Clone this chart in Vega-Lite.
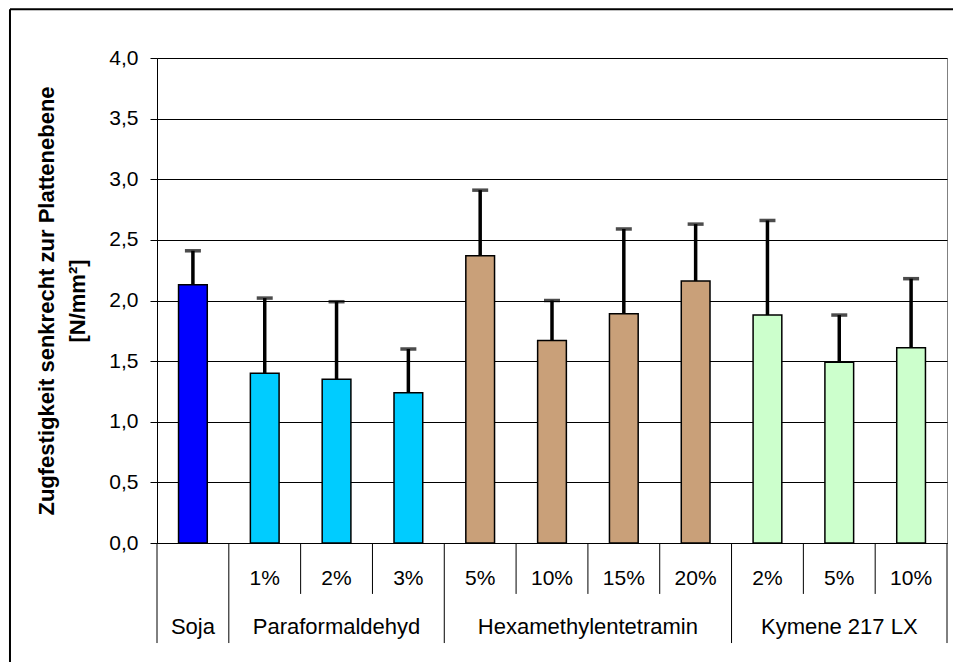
{
  "$schema": "https://vega.github.io/schema/vega-lite/v6.json",
  "width": 790,
  "height": 485,
  "autosize": "none",
  "padding": {"left": 157, "top": 58, "right": 6, "bottom": 119},
  "background": "white",
  "config": {"view": {"stroke": "#808080", "strokeWidth": 1}, "font": "Liberation Sans"},
  "datasets": {
    "bars": [
      {"id": "Soja", "group": "Soja", "conc": "", "value": 2.13, "upper": 2.41},
      {"id": "P1", "group": "Paraformaldehyd", "conc": "1%", "value": 1.40, "upper": 2.02},
      {"id": "P2", "group": "Paraformaldehyd", "conc": "2%", "value": 1.35, "upper": 1.99},
      {"id": "P3", "group": "Paraformaldehyd", "conc": "3%", "value": 1.24, "upper": 1.60},
      {"id": "H5", "group": "Hexamethylentetramin", "conc": "5%", "value": 2.37, "upper": 2.91},
      {"id": "H10", "group": "Hexamethylentetramin", "conc": "10%", "value": 1.67, "upper": 2.00},
      {"id": "H15", "group": "Hexamethylentetramin", "conc": "15%", "value": 1.89, "upper": 2.59},
      {"id": "H20", "group": "Hexamethylentetramin", "conc": "20%", "value": 2.16, "upper": 2.63},
      {"id": "K2", "group": "Kymene 217 LX", "conc": "2%", "value": 1.88, "upper": 2.66},
      {"id": "K5", "group": "Kymene 217 LX", "conc": "5%", "value": 1.49, "upper": 1.88},
      {"id": "K10", "group": "Kymene 217 LX", "conc": "10%", "value": 1.61, "upper": 2.18}
    ],
    "groups": [
      {"group": "Soja", "at": "Soja"},
      {"group": "Paraformaldehyd", "at": "P2"},
      {"group": "Hexamethylentetramin", "at": "H15"},
      {"group": "Kymene 217 LX", "at": "K5"}
    ]
  },
  "data": {"name": "bars"},
  "encoding": {
    "x": {
      "field": "id",
      "type": "nominal",
      "scale": {"domain": ["Soja", "P1", "P2", "P3", "H5", "H10", "H15", "H20", "K2", "K5", "K10"], "paddingInner": 0, "paddingOuter": 0},
      "axis": {"labels": false, "ticks": false, "title": null, "domainColor": "black", "grid": false}
    }
  },
  "layer": [
    {
      "mark": {"type": "bar", "width": {"band": 0.4}, "stroke": "black", "strokeWidth": 1.5},
      "encoding": {
        "y": {
          "field": "value",
          "type": "quantitative",
          "scale": {"domain": [0, 4], "nice": false, "zero": true},
          "axis": {
            "values": [0, 0.5, 1, 1.5, 2, 2.5, 3, 3.5, 4],
            "labelExpr": "replace(format(datum.value, '.1f'), '.', ',')",
            "labelFontSize": 21,
            "labelColor": "black",
            "labelPadding": 12,
            "tickColor": "black",
            "tickSize": 7,
            "domainColor": "black",
            "gridColor": "black",
            "gridWidth": 1,
            "title": ["Zugfestigkeit senkrecht zur Plattenebene", "[N/mm²]"],
            "titleFontSize": 22,
            "titleFontWeight": "bold",
            "titleColor": "black",
            "titlePadding": 19,
            "titleLineHeight": 31
          }
        },
        "color": {
          "field": "group",
          "type": "nominal",
          "scale": {"domain": ["Soja", "Paraformaldehyd", "Hexamethylentetramin", "Kymene 217 LX"], "range": ["#0000FF", "#00CCFF", "#C9A079", "#CCFFCC"]},
          "legend": null
        }
      }
    },
    {
      "mark": {"type": "rule", "color": "black", "strokeWidth": 3.5},
      "encoding": {
        "y": {"field": "value", "type": "quantitative"},
        "y2": {"field": "upper"}
      }
    },
    {
      "mark": {"type": "tick", "color": "black", "size": 16, "thickness": 3.5, "orient": "horizontal"},
      "encoding": {
        "y": {"field": "upper", "type": "quantitative"}
      }
    },
    {
      "mark": {"type": "text", "fontSize": 21, "baseline": "middle", "align": "center", "color": "black"},
      "encoding": {
        "y": {"datum": -0.3},
        "text": {"field": "conc"}
      }
    },
    {
      "transform": [{"window": [{"op": "row_number", "as": "rn"}], "groupby": ["group"]}, {"filter": "datum.rn > 1"}],
      "mark": {"type": "rule", "color": "black", "strokeWidth": 1},
      "encoding": {
        "x": {"field": "id", "type": "nominal", "bandPosition": 0},
        "y": {"datum": 0},
        "y2": {"datum": -0.42}
      }
    },
    {
      "transform": [{"window": [{"op": "row_number", "as": "rn"}], "groupby": ["group"]}, {"filter": "datum.rn == 1"}],
      "mark": {"type": "rule", "color": "black", "strokeWidth": 1},
      "encoding": {
        "x": {"field": "id", "type": "nominal", "bandPosition": 0},
        "y": {"datum": 0},
        "y2": {"datum": -0.825}
      }
    },
    {
      "transform": [{"filter": "datum.id == 'K10'"}],
      "mark": {"type": "rule", "color": "black", "strokeWidth": 1},
      "encoding": {
        "x": {"field": "id", "type": "nominal", "bandPosition": 1},
        "y": {"datum": 0},
        "y2": {"datum": -0.825}
      }
    },
    {
      "data": {"name": "groups"},
      "transform": [{"filter": "datum.group != 'Hexamethylentetramin'"}],
      "mark": {"type": "text", "fontSize": 22, "baseline": "middle", "align": "center", "color": "black"},
      "encoding": {
        "x": {"field": "at", "type": "nominal"},
        "y": {"datum": -0.69},
        "text": {"field": "group"}
      }
    },
    {
      "data": {"name": "groups"},
      "transform": [{"filter": "datum.group == 'Hexamethylentetramin'"}],
      "mark": {"type": "text", "fontSize": 22, "baseline": "middle", "align": "center", "color": "black"},
      "encoding": {
        "x": {"field": "at", "type": "nominal", "bandPosition": 0},
        "y": {"datum": -0.69},
        "text": {"field": "group"}
      }
    },
    {
      "data": {"values": [{"edge": "frame"}]},
      "mark": {"type": "rule", "color": "black", "strokeWidth": 2},
      "encoding": {
        "x": {"datum": "Soja", "bandPosition": -2.047},
        "y": {"datum": 4.402},
        "y2": {"datum": -1.2}
      }
    },
    {
      "data": {"values": [{"edge": "frame"}]},
      "mark": {"type": "rule", "color": "black", "strokeWidth": 2},
      "encoding": {
        "x": {"datum": "Soja", "bandPosition": -2.047},
        "x2": {"datum": "K10", "bandPosition": 2},
        "y": {"datum": 4.402}
      }
    }
  ]
}
